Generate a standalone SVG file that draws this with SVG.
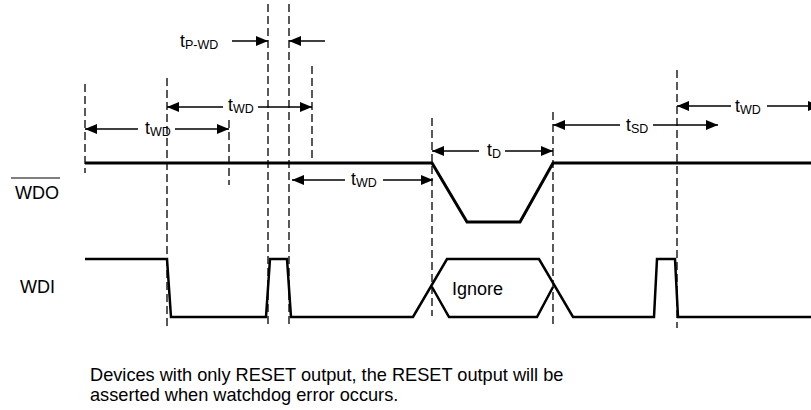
<svg xmlns="http://www.w3.org/2000/svg" width="811" height="410" viewBox="0 0 811 410">
<style>
  .bg{fill:#ffffff}
  .dash{stroke:#000;stroke-width:1.3;stroke-dasharray:8,4;fill:none}
  .dim{stroke:#000;stroke-width:1.3;fill:none}
  .sig{stroke:#000;stroke-width:3;fill:none;stroke-linejoin:miter}
  .wdi{stroke:#000;stroke-width:2.5;fill:none;stroke-linejoin:miter}
  text{font-family:"Liberation Sans",Arial,sans-serif;fill:#000}
  .lbl{font-size:18px}
  .t{font-size:17.5px}
  .sub{font-size:12.5px}
  .note{font-size:18.2px}
</style>
<defs>
  <marker id="ah" markerWidth="12" markerHeight="10" refX="12" refY="5" orient="auto" markerUnits="userSpaceOnUse">
    <path d="M0,0 L12,5 L0,10 Z" fill="#000"/>
  </marker>
</defs>
<rect class="bg" x="0" y="0" width="811" height="410"/>

<g id="gridlines">
  <line class="dash" x1="85" y1="84" x2="85" y2="173"/>
  <line class="dash" x1="167" y1="78" x2="167" y2="328"/>
  <line class="dash" x1="229" y1="120" x2="229" y2="185"/>
  <line class="dash" x1="268" y1="4" x2="268" y2="328"/>
  <line class="dash" x1="289" y1="4" x2="289" y2="326"/>
  <line class="dash" x1="312" y1="66" x2="312" y2="164"/>
  <line class="dash" x1="432" y1="118" x2="432" y2="316"/>
  <line class="dash" x1="553" y1="112" x2="553" y2="326"/>
  <line class="dash" x1="677" y1="70" x2="677" y2="328"/>
</g>

<g id="signals">
  <g id="wdo">
    <polyline class="sig" points="85,163 432,163 467,222 520,222 553,163 811,163"/>
    <text class="lbl" x="15" y="199">WDO</text>
    <line x1="11" y1="178" x2="60" y2="178" stroke="#000" stroke-width="1.2"/>
  </g>
  <g id="wdi">
    <polyline class="wdi" points="85,259 167,259 171,317 266,317 270,259 287,259 291,317 413,317 447,259 539,259 573,317 654,317 657,259 675,259 678,317 811,317"/>
    <polyline class="wdi" points="432,287 449,317 537,317 553,287"/>
    <text class="lbl" x="20" y="293">WDI</text>
    <text class="lbl" x="452" y="295">Ignore</text>
  </g>
</g>

<g id="connectors">
  <line class="dim" x1="232" y1="41" x2="268" y2="41" marker-end="url(#ah)"/>
  <line class="dim" x1="325" y1="41" x2="289" y2="41" marker-end="url(#ah)"/>
  <line class="dim" x1="138" y1="129" x2="85" y2="129" marker-end="url(#ah)"/>
  <line class="dim" x1="175" y1="129" x2="229" y2="129" marker-end="url(#ah)"/>
  <line class="dim" x1="223" y1="107" x2="167" y2="107" marker-end="url(#ah)"/>
  <line class="dim" x1="258" y1="107" x2="312" y2="107" marker-end="url(#ah)"/>
  <line class="dim" x1="345" y1="180" x2="292" y2="180" marker-end="url(#ah)"/>
  <line class="dim" x1="383" y1="180" x2="433" y2="180" marker-end="url(#ah)"/>
  <line class="dim" x1="479" y1="151" x2="432" y2="151" marker-end="url(#ah)"/>
  <line class="dim" x1="505" y1="151" x2="553" y2="151" marker-end="url(#ah)"/>
  <line class="dim" x1="620" y1="125" x2="553" y2="125" marker-end="url(#ah)"/>
  <line class="dim" x1="653" y1="125" x2="718" y2="125" marker-end="url(#ah)"/>
  <line class="dim" x1="731" y1="106" x2="677" y2="106" marker-end="url(#ah)"/>
  <line class="dim" x1="767" y1="106" x2="820" y2="106" marker-end="url(#ah)"/>
</g>

<g id="labels">
  <text class="t" x="180" y="47">t<tspan class="sub" dy="2">P-WD</tspan></text>
  <text class="t" x="145" y="134">t<tspan class="sub" dy="2">WD</tspan></text>
  <text class="t" x="228" y="111">t<tspan class="sub" dy="2">WD</tspan></text>
  <text class="t" x="351" y="185">t<tspan class="sub" dy="2">WD</tspan></text>
  <text class="t" x="487" y="156">t<tspan class="sub" dy="2">D</tspan></text>
  <text class="t" x="626" y="131">t<tspan class="sub" dy="2">SD</tspan></text>
  <text class="t" x="735" y="112">t<tspan class="sub" dy="2">WD</tspan></text>
</g>

<g id="note">
  <text class="note" x="90" y="381">Devices with only RESET output, the RESET output will be</text>
  <text class="note" x="90" y="401">asserted when watchdog error occurs.</text>
</g>
</svg>
